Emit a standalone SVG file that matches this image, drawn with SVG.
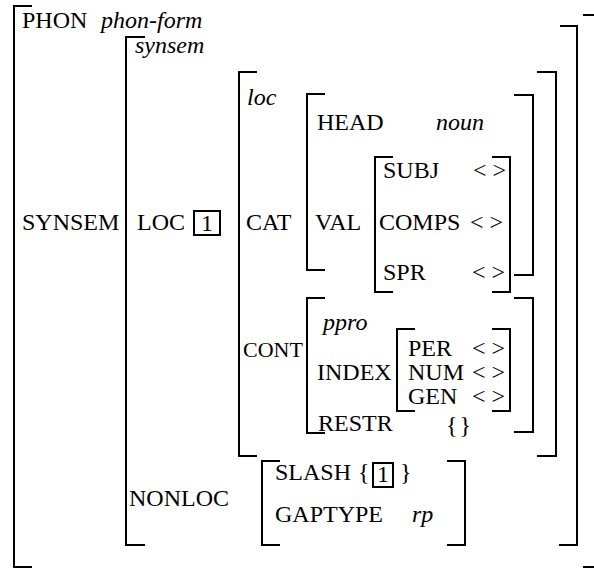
<svg xmlns="http://www.w3.org/2000/svg" width="594" height="569" viewBox="0 0 594 569">
<style>
.b{fill:none;stroke:#000;stroke-width:2}
text{font-family:"Liberation Serif","Times New Roman",serif;font-size:24px;fill:#000}
.i{font-style:italic}
.bx{fill:none;stroke:#000;stroke-width:2}
</style>
<rect width="594" height="569" fill="#fff"/>
<g id="outer">
<path class="b" d="M32 6H14V567H32"/>
<path class="b" d="M583 15H594M583 567H594"/>
<text x="22" y="28">PHON</text>
<text class="i" x="101" y="28">phon-form</text>
<text x="22" y="230">SYNSEM</text>
</g>
<g id="synsem">
<path class="b" d="M145 37H126V545H145"/>
<path class="b" d="M560 26H577V545H559"/>
<text class="i" x="135" y="53">synsem</text>
<text x="137" y="230">LOC</text>
<rect class="bx" x="194" y="211" width="26" height="24"/>
<text x="201" y="231">1</text>
<text x="129" y="506">NONLOC</text>
</g>
<g id="loc">
<path class="b" d="M257 72H239V456H257"/>
<path class="b" d="M537 72H556V456H537"/>
<text class="i" x="247" y="105">loc</text>
<text x="246" y="230">CAT</text>
<text x="243" y="357" style="font-size:22px">CONT</text>
</g>
<g id="cat">
<path class="b" d="M325 94H307V270H325"/>
<path class="b" d="M514 95H533V275H514"/>
<text x="317" y="130">HEAD</text>
<text class="i" x="436" y="130">noun</text>
<text x="315" y="230">VAL</text>
</g>
<g id="val">
<path class="b" d="M393 157H375V292H393"/>
<path class="b" d="M492 157H510V292H492"/>
<text x="383" y="178">SUBJ</text>
<text x="473" y="178">&lt; &gt;</text>
<text x="379" y="230">COMPS</text>
<text x="470" y="230">&lt; &gt;</text>
<text x="383" y="280">SPR</text>
<text x="472" y="280">&lt; &gt;</text>
</g>
<g id="cont">
<path class="b" d="M325 298H307V433H325"/>
<path class="b" d="M514 298H533V432H514"/>
<text class="i" x="323" y="330">ppro</text>
<text x="317" y="380">INDEX</text>
<text x="318" y="431">RESTR</text>
<text x="446" y="433" word-spacing="-4">{ }</text>
</g>
<g id="index">
<path class="b" d="M415 329H397V411H415"/>
<path class="b" d="M492 329H510V411H492"/>
<text x="408" y="356">PER</text>
<text x="472" y="356">&lt; &gt;</text>
<text x="408" y="380">NUM</text>
<text x="472" y="380">&lt; &gt;</text>
<text x="408" y="404">GEN</text>
<text x="472" y="404">&lt; &gt;</text>
</g>
<g id="nonloc">
<path class="b" d="M280 461H262V545H280"/>
<path class="b" d="M447 461H465V545H447"/>
<text x="275" y="480">SLASH</text>
<text x="358" y="480">{</text>
<rect class="bx" x="373" y="463" width="20" height="24"/>
<text x="377" y="482">1</text>
<text x="400" y="480">}</text>
<text x="275" y="522">GAPTYPE</text>
<text class="i" x="412" y="522">rp</text>
</g>
<g id="connectors"></g>
</svg>
